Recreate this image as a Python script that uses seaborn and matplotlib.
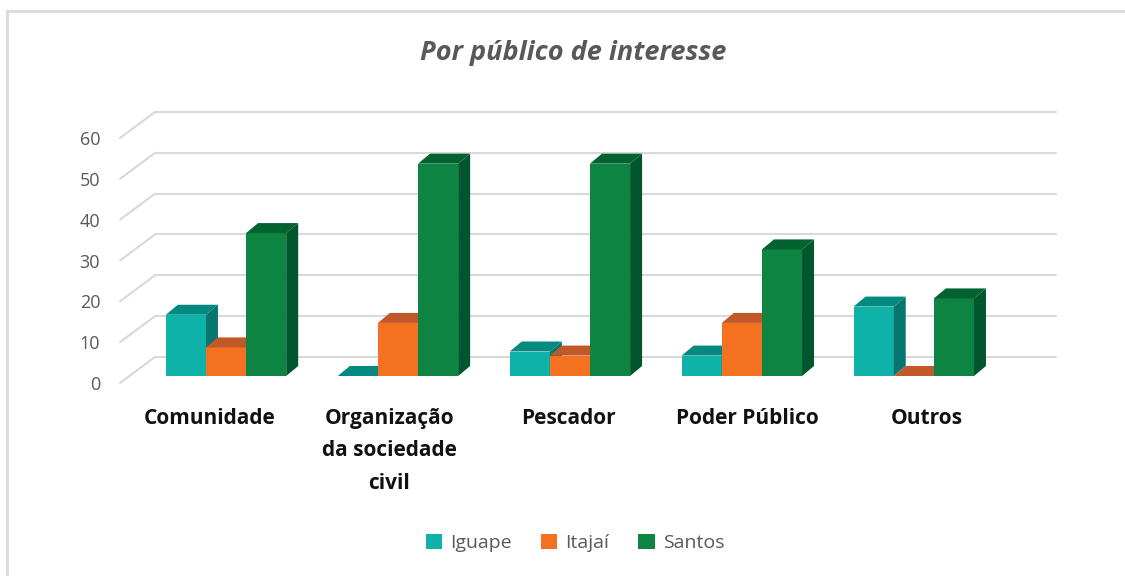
import matplotlib
matplotlib.use("Agg")
import matplotlib.pyplot as plt
from matplotlib.patches import Polygon
from matplotlib.lines import Line2D
from matplotlib.transforms import ScaledTranslation
import numpy as np
import pandas as pd
import seaborn as sns

categorias = ["Comunidade", "Organização\nda sociedade\ncivil", "Pescador", "Poder Público", "Outros"]
cidades = ["Iguape", "Itajaí", "Santos"]
iguape = [15, 0, 6, 5, 17]
itajai = [7, 13, 5, 13, 0]
santos = [35, 52, 52, 31, 19]
eixo_y = [0, 10, 20, 30, 40, 50, 60]

cores = {"Iguape": "#0FB2A9", "Itajaí": "#F37121", "Santos": "#0D8441"}
cores_topo = {"Iguape": "#048981", "Itajaí": "#C05927", "Santos": "#026330"}
cores_lado = {"Iguape": "#077570", "Itajaí": "#B5541F", "Santos": "#02562D"}

df = pd.DataFrame({
    "categoria": categorias * 3,
    "cidade": np.repeat(cidades, len(categorias)),
    "valor": iguape + itajai + santos,
})

sns.set_theme(style="white")
plt.rcParams["font.family"] = ["Open Sans", "DejaVu Sans"]

W, H = 1125, 576
fig = plt.figure(figsize=(W / 100, H / 100), dpi=100)
ax = fig.add_axes([128 / W, (H - 376) / H, (1029 - 128) / W, 245 / H])

sns.barplot(data=df, x="categoria", y="valor", hue="cidade", palette=cores,
            width=0.7, saturation=1, linewidth=0, ax=ax)
ax.set_xlim(-0.57, 4.67)
ax.set_ylim(0, 60)
ax.set_xlabel("")
ax.set_ylabel("")
sns.despine(ax=ax, left=True, bottom=True)

# fake 3d: top and side faces for each bar
dx, dy = 12, 10
to_data = ax.transData.inverted()
barras = []
for cidade, cont in zip(cidades, ax.containers):
    for p in cont.patches:
        barras.append((p, cidade))
barras.sort(key=lambda b: b[0].get_x())
for k, (p, cidade) in enumerate(barras):
    x0, x1 = p.get_x(), p.get_x() + p.get_width()
    (a0, b0), (a1, b1) = ax.transData.transform([(x0, 0), (x1, p.get_height())])
    topo = [(a0, b1), (a1, b1), (a1 + dx, b1 + dy), (a0 + dx, b1 + dy)]
    lado = [(a1, b0), (a1 + dx, b0 + dy), (a1 + dx, b1 + dy), (a1, b1)]
    z = 2 + k * 0.01
    p.set_zorder(z)
    for pts, cor in ((topo, cores_topo[cidade]), (lado, cores_lado[cidade])):
        ax.add_patch(Polygon(to_data.transform(pts), closed=True, facecolor=cor,
                             edgecolor="none", zorder=z, clip_on=False))

# back wall gridlines + floor diagonals
xr = ax.transAxes.transform((1, 0))[0]
for v in eixo_y:
    gx, gy = ax.transData.transform((ax.get_xlim()[0], v))
    fundo = to_data.transform([(gx + 27, gy + 19), (xr + 27, gy + 19)])
    diag = to_data.transform([(gx - 8, gy - 7), (gx + 27, gy + 19)])
    for seg in (fundo, diag):
        ax.add_line(Line2D(seg[:, 0], seg[:, 1], color="#d9d9d9", lw=1.5,
                           zorder=1, clip_on=False))

ax.set_yticks(eixo_y)
ax.tick_params(axis="y", length=0, pad=20, labelcolor="#595959", labelsize=13)
for lab in ax.get_yticklabels():
    lab.set_transform(lab.get_transform() + ScaledTranslation(0, -0.07, fig.dpi_scale_trans))

ax.set_xticks(range(len(categorias)))
ax.set_xticklabels(categorias, fontweight="bold", fontsize=15, color="#111111", linespacing=1.72)
ax.tick_params(axis="x", length=0, pad=23)
# perspective: category labels spread slightly wider than the bars
for i, lab in enumerate(ax.get_xticklabels()):
    lab.set_transform(lab.get_transform() + ScaledTranslation((7.1 * (i - 2) - 1.7) / 100, 0, fig.dpi_scale_trans))

fig.text(573 / W, 1 - 53 / H, "Por público de interesse", ha="center", va="center",
         style="italic", weight="bold", color="#595959", size=19.5)

sns.move_legend(ax, "center", bbox_to_anchor=(575 / W, 1 - 543 / H),
                bbox_transform=fig.transFigure, ncol=3, frameon=False, title=None,
                fontsize=14, handlelength=0.85, handleheight=0.85,
                columnspacing=1.5, handletextpad=0.4)
for t in ax.get_legend().get_texts():
    t.set_color("#595959")

fig.add_artist(Line2D([7 / W, 1], [1 - 11 / H] * 2, transform=fig.transFigure,
                      color="#d9d9d9", lw=2))
fig.add_artist(Line2D([7 / W] * 2, [0, 1 - 11 / H], transform=fig.transFigure,
                      color="#d9d9d9", lw=2))

fig.savefig("out.png", dpi=100)
